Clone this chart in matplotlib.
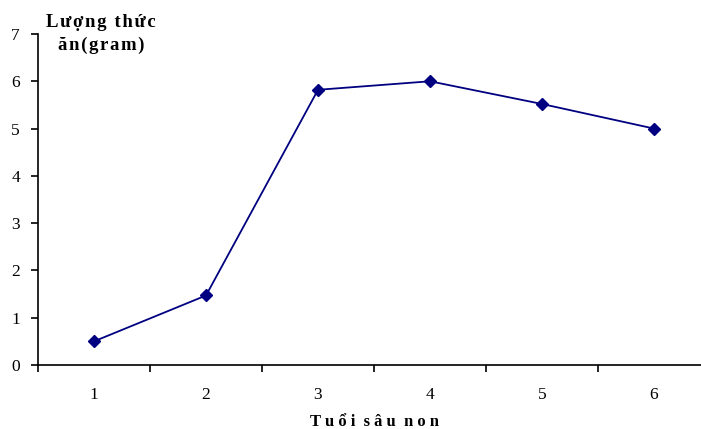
import matplotlib
matplotlib.use("Agg")
import matplotlib.pyplot as plt
from matplotlib.ticker import FixedLocator, NullFormatter

# Food consumption per larval instar
instars = ["1", "2", "3", "4", "5", "6"]
food_gram = [0.5, 1.47, 5.82, 6.0, 5.52, 5.0]
y_ticks = [0, 1, 2, 3, 4, 5, 6, 7]

plt.rcParams["font.family"] = ["Liberation Serif", "DejaVu Serif"]


def spaced(text, gap="\u200a"):
    return gap.join(text)


fig = plt.figure(figsize=(7.01, 4.29), dpi=100)
ax = fig.add_axes([38 / 701, (429 - 365) / 429, 672 / 701, (365 - 34) / 429])

x = list(range(1, len(instars) + 1))
ax.plot(x, food_gram, color="#000080", linewidth=1.3, marker="D",
        markersize=6.5, markerfacecolor="#000080", markeredgecolor="#000080")

ax.set_xlim(0.5, len(instars) + 0.5)
ax.set_ylim(0, 7)
ax.set_yticks(y_ticks)
ax.tick_params(axis="y", direction="out", length=5, width=1.2,
               labelsize=12.5, pad=8)

# Ticks at category boundaries, labels centred on categories
ax.xaxis.set_major_locator(FixedLocator([i + 0.5 for i in range(len(instars) + 1)]))
ax.xaxis.set_major_formatter(NullFormatter())
ax.xaxis.set_minor_locator(FixedLocator(x))
ax.set_xticklabels(instars, minor=True)
ax.tick_params(axis="x", which="major", direction="out", length=5, width=1.2)
ax.tick_params(axis="x", which="minor", length=0, labelsize=12.5, pad=16)

for side in ("top", "right"):
    ax.spines[side].set_visible(False)
for side in ("left", "bottom"):
    ax.spines[side].set_linewidth(1.2)

fig.text(375 / 701, 1 - 422 / 429, "T u ổ i  s â u  n o n", ha="center",
         va="center", fontsize=12, fontweight="bold")
fig.text(101 / 701, 1 - 34 / 429,
         spaced("Lượng thức") + "\n" + spaced("ăn(gram)"), ha="center",
         va="center", fontsize=13.5, fontweight="bold", linespacing=1.45)

fig.savefig("out.png", dpi=100)
